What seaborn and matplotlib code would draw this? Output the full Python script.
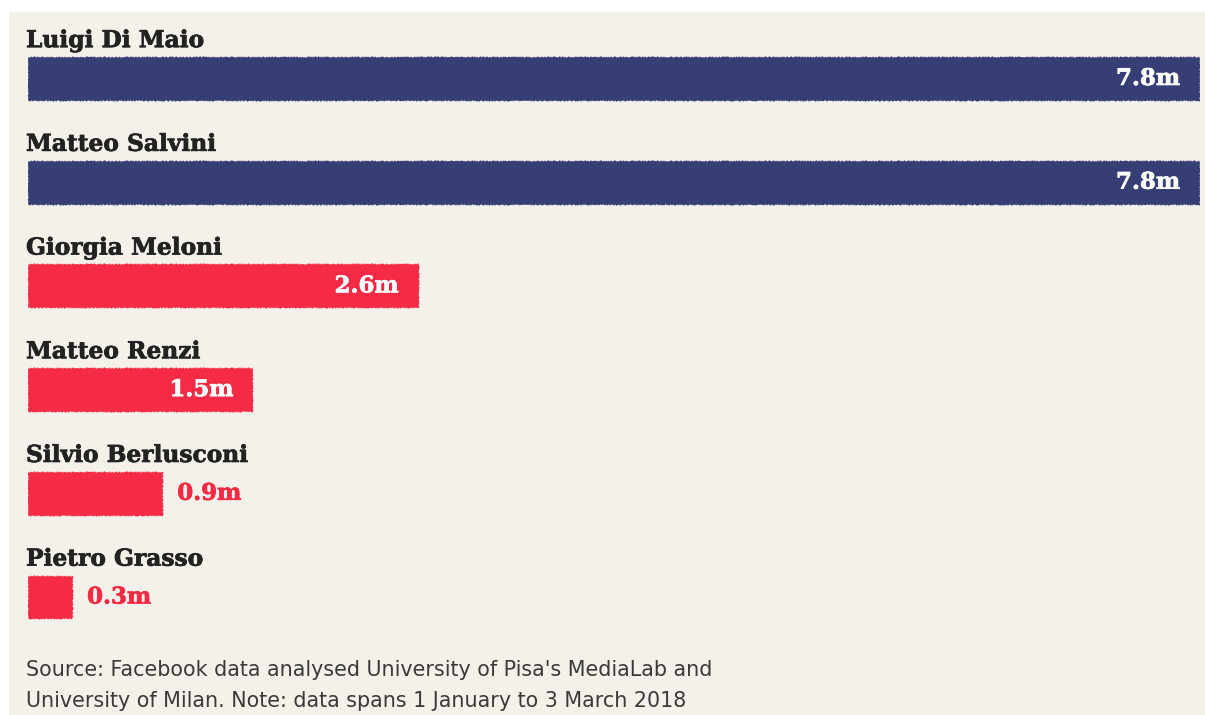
import matplotlib
matplotlib.use("Agg")
import matplotlib.pyplot as plt
from matplotlib.patches import Rectangle
import matplotlib.patheffects as pe
import seaborn as sns
import pandas as pd

# Facebook interactions per politician, millions
politicians = ["Luigi Di Maio", "Matteo Salvini", "Giorgia Meloni",
               "Matteo Renzi", "Silvio Berlusconi", "Pietro Grasso"]
interactions_m = [7.8, 7.8, 2.6, 1.5, 0.9, 0.3]
value_labels = ["7.8m", "7.8m", "2.6m", "1.5m", "0.9m", "0.3m"]
bar_colors = ["#363e75", "#363e75", "#f52a45", "#f52a45", "#f52a45", "#f52a45"]
source_note = ("Source: Facebook data analysed University of Pisa's MediaLab and\n"
               "University of Milan. Note: data spans 1 January to 3 March 2018")

PANEL = "#f4f0ea"
INK = "#222222"

sns.set_theme(style="white")

serif_font = "DejaVu Serif"
sans_font = "DejaVu Sans"

W, H, DPI = 1205, 715, 100
fig = plt.figure(figsize=(W / DPI, H / DPI), dpi=DPI, facecolor="white")

# Beige card behind the chart
fig.patches.append(Rectangle((9 / W, 0), 1 - 9 / W, (H - 12) / H,
                             transform=fig.transFigure, facecolor=PANEL,
                             edgecolor="none", zorder=-5))

left_px, right_px = 28, 1200
first_row_px, row_step_px = 79, 103.7
ax = fig.add_axes([left_px / W, 0, (right_px - left_px) / W, 1])
ax.set_facecolor("none")
ax.set_zorder(2)

df = pd.DataFrame({"name": politicians, "value": interactions_m})
sns.barplot(data=df, x="value", y="name", hue="name", palette=bar_colors,
            orient="h", width=0.424, legend=False, ax=ax, saturation=1)

ax.set_xlim(0, max(interactions_m))
ax.set_ylim((H - first_row_px) / row_step_px, -first_row_px / row_step_px)
ax.axis("off")

# Fine-grained ragged edge, like a brush stroke
for p in ax.patches:
    p.set_edgecolor("none")
    p.set_sketch_params(scale=0.7, length=3, randomness=2)

px = 72 / DPI


def heavy(color):
    return [pe.withStroke(linewidth=0.5, foreground=color)]


for i, (name, val, lab, col) in enumerate(zip(politicians, interactions_m, value_labels, bar_colors)):
    ax.text(-2 / ((right_px - left_px) / max(interactions_m)), i - 0.212 - 0.095, name,
            ha="left", va="baseline", fontsize=16.8, fontweight="bold",
            family=serif_font, color=INK, path_effects=heavy(INK))
    if val > 1:
        ax.annotate(lab, (val, i), xytext=(-20 * px, 0), textcoords="offset points",
                    ha="right", va="center", fontsize=16.5, fontweight="bold",
                    family=serif_font, color="white", path_effects=heavy("white"))
    else:
        ax.annotate(lab, (val, i), xytext=(14 * px, 0), textcoords="offset points",
                    ha="left", va="center", fontsize=16.5, fontweight="bold",
                    family=serif_font, color=col, path_effects=heavy(col))

fig.text(26 / W, 1 - 660 / H, source_note, ha="left", va="top",
         fontsize=14.9, family=sans_font, color="#3a3a3a", linespacing=1.68)

fig.savefig("out.png", dpi=DPI, facecolor="white")
